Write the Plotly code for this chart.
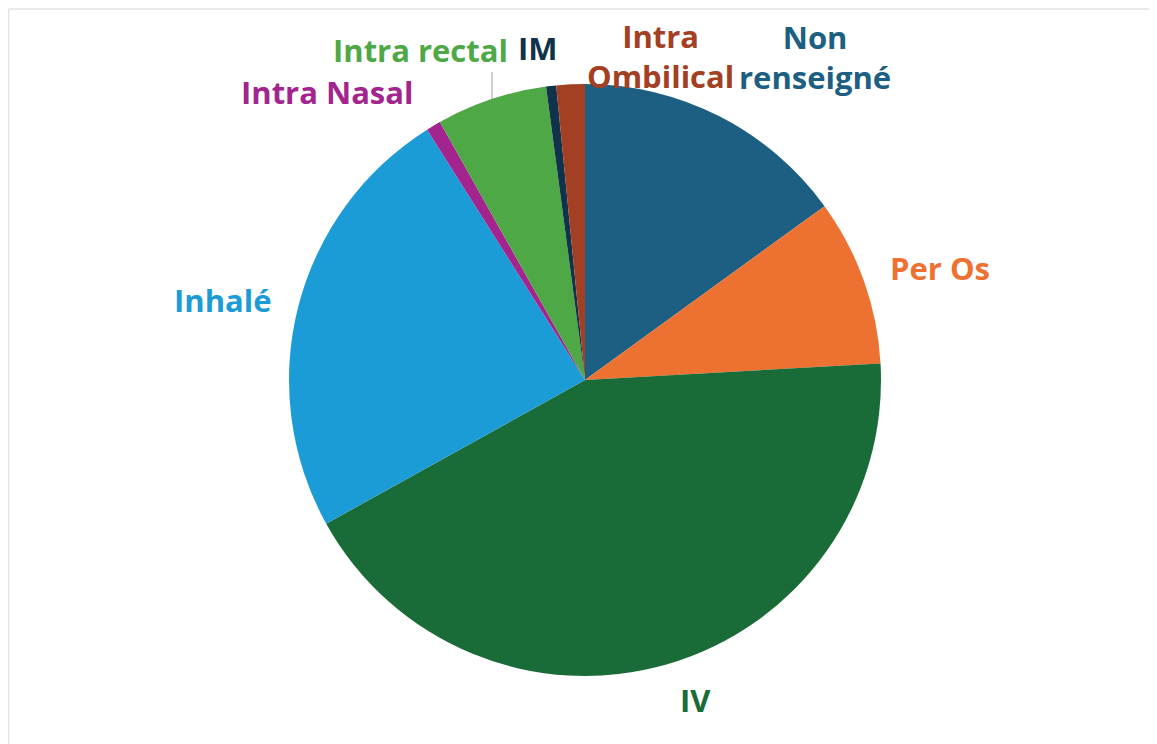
import plotly.graph_objects as go

labels = ["Non renseigné", "Per Os", "IV", "Inhalé", "Intra Nasal", "Intra rectal", "IM", "Intra Ombilical"]
values = [15.0, 9.1, 42.8, 24.1, 0.8, 6.05, 0.55, 1.55]
colors = ["#1D5F82", "#ED7232", "#196B37", "#1C9CD6", "#A3248E", "#4EA846", "#10324A", "#A33F22"]
label_texts = ["Non<br>renseigné", "Per Os", "IV", "Inhalé", "Intra Nasal", "Intra rectal", "IM", "Intra<br>Ombilical"]
# label centres in screen pixels (x, y from top)
label_pos = [(815, 57), (940, 268), (695, 700), (223, 300), (327, 92), (420, 50), (538, 48), (660, 56)]

OFF = 8  # page body margin
W, H = 1157 - OFF, 744 - OFF


def px(x):
    return (x - OFF) / W


def py(y):
    return 1 - (y - OFF) / H


fig = go.Figure(go.Pie(
    labels=labels, values=values, sort=False, direction="clockwise", rotation=0,
    marker=dict(colors=colors, line=dict(width=0)),
    textinfo="none", hoverinfo="label+percent",
    domain=dict(x=[px(289), px(881)], y=[py(676), py(84)]),
    showlegend=False,
))

annotations = []
for t, (x, y), c in zip(label_texts, label_pos, colors):
    annotations.append(dict(
        text=f"<b>{t}</b>", x=px(x), y=py(y), xref="paper", yref="paper",
        xanchor="center", yanchor="middle", showarrow=False,
        font=dict(family="Open Sans", size=31, color=c),
    ))

shapes = [
    dict(type="line", xref="paper", yref="paper", x0=px(492), x1=px(492), y0=py(72), y1=py(99),
         line=dict(color="#BFBFBF", width=1.5)),
    dict(type="line", xref="paper", yref="paper", x0=0.0005, x1=1.0, y0=py(9), y1=py(9),
         line=dict(color="#E3E3E3", width=1.5)),
    dict(type="line", xref="paper", yref="paper", x0=0.0005, x1=0.0005, y0=py(9), y1=0.0,
         line=dict(color="#E3E3E3", width=1.5)),
]

fig.update_layout(
    width=W, height=H, margin=dict(l=0, r=0, t=0, b=0),
    paper_bgcolor="white", plot_bgcolor="white",
    annotations=annotations, shapes=shapes,
)

fig.write_html("out.html")
